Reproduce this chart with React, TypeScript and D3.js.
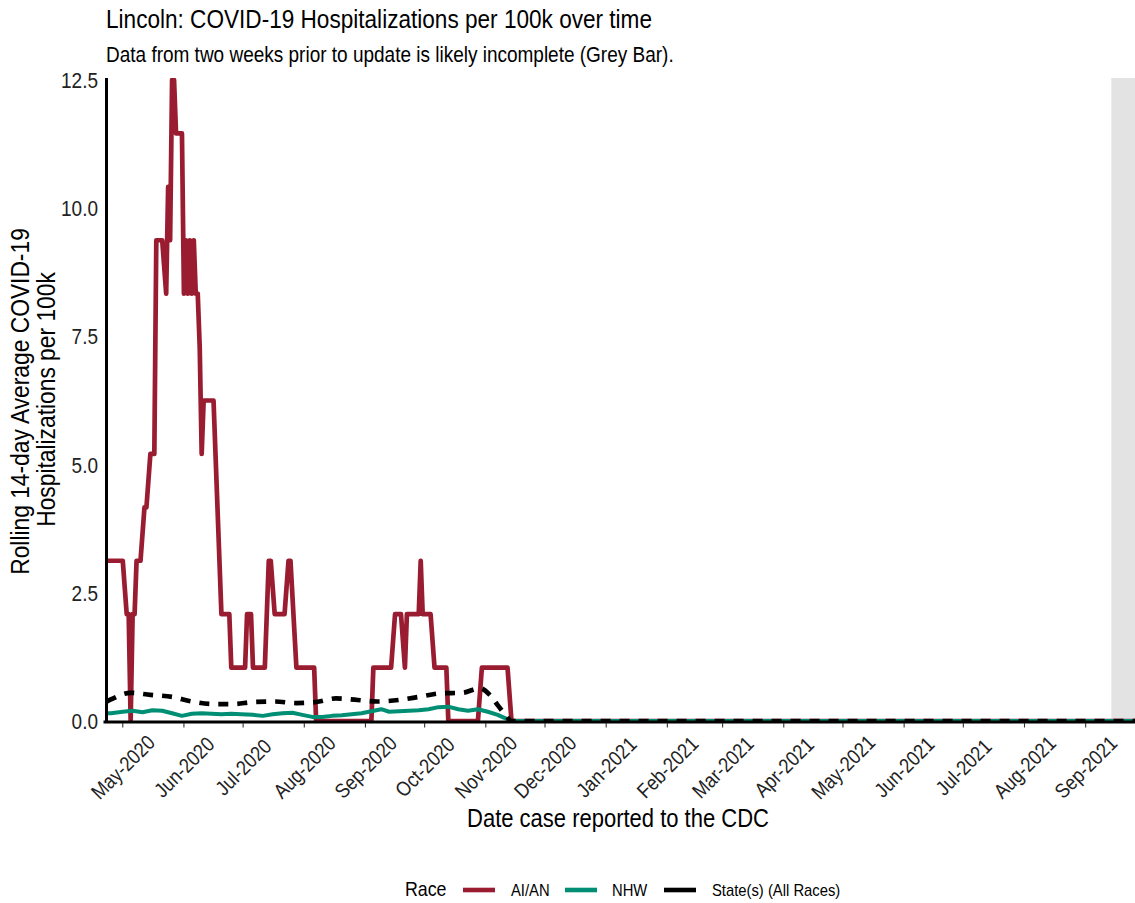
import React from "react";
import * as d3 from "d3";

// ---- data (date, rate per 100k) ----
const aianSeries: [string, number][] = [
  ["2020-04-23", 3.125], ["2020-05-01", 3.125], ["2020-05-03", 2.083], ["2020-05-04", 2.083],
  ["2020-05-05", 0], ["2020-05-06", 2.083], ["2020-05-07", 2.083], ["2020-05-08", 3.125],
  ["2020-05-10", 3.125], ["2020-05-12", 4.167], ["2020-05-13", 4.167], ["2020-05-15", 5.208],
  ["2020-05-17", 5.208], ["2020-05-18", 9.375], ["2020-05-21", 9.375], ["2020-05-23", 8.333],
  ["2020-05-24", 10.417], ["2020-05-25", 9.375], ["2020-05-26", 12.5], ["2020-05-27", 12.5],
  ["2020-05-28", 11.458], ["2020-05-31", 11.458], ["2020-06-01", 8.333], ["2020-06-02", 9.375],
  ["2020-06-03", 8.333], ["2020-06-04", 9.375], ["2020-06-05", 8.333], ["2020-06-06", 9.375],
  ["2020-06-07", 8.333], ["2020-06-08", 8.333], ["2020-06-09", 7.292], ["2020-06-10", 5.208],
  ["2020-06-11", 6.25], ["2020-06-16", 6.25], ["2020-06-19", 3.125], ["2020-06-20", 2.083],
  ["2020-06-24", 2.083], ["2020-06-25", 1.042], ["2020-07-02", 1.042], ["2020-07-03", 2.083],
  ["2020-07-05", 2.083], ["2020-07-06", 1.042], ["2020-07-12", 1.042], ["2020-07-14", 3.125],
  ["2020-07-15", 3.125], ["2020-07-17", 2.083], ["2020-07-22", 2.083], ["2020-07-24", 3.125],
  ["2020-07-25", 3.125], ["2020-07-28", 1.042], ["2020-08-06", 1.042], ["2020-08-07", 0],
  ["2020-09-04", 0], ["2020-09-05", 1.042], ["2020-09-14", 1.042], ["2020-09-16", 2.083],
  ["2020-09-19", 2.083], ["2020-09-21", 1.042], ["2020-09-22", 2.083], ["2020-09-28", 2.083],
  ["2020-09-29", 3.125], ["2020-09-30", 2.083], ["2020-10-04", 2.083], ["2020-10-06", 1.042],
  ["2020-10-12", 1.042], ["2020-10-13", 0], ["2020-10-28", 0], ["2020-10-30", 1.042],
  ["2020-11-12", 1.042], ["2020-11-14", 0], ["2021-09-26", 0],
];

const nhwSeries: [string, number][] = [
  ["2020-04-23", 0.15], ["2020-04-25", 0.15], ["2020-05-01", 0.18], ["2020-05-06", 0.2],
  ["2020-05-11", 0.17], ["2020-05-16", 0.21], ["2020-05-21", 0.2], ["2020-05-26", 0.15],
  ["2020-05-31", 0.1], ["2020-06-05", 0.14], ["2020-06-10", 0.15], ["2020-06-15", 0.14],
  ["2020-06-20", 0.13], ["2020-06-25", 0.14], ["2020-06-30", 0.13], ["2020-07-06", 0.12],
  ["2020-07-11", 0.1], ["2020-07-16", 0.13], ["2020-07-21", 0.15], ["2020-07-26", 0.16],
  ["2020-07-31", 0.12], ["2020-08-05", 0.08], ["2020-08-10", 0.08], ["2020-08-15", 0.1],
  ["2020-08-20", 0.11], ["2020-08-25", 0.13], ["2020-08-30", 0.15], ["2020-09-04", 0.19],
  ["2020-09-09", 0.23], ["2020-09-13", 0.18], ["2020-09-18", 0.19], ["2020-09-23", 0.2],
  ["2020-09-28", 0.21], ["2020-10-03", 0.23], ["2020-10-08", 0.27], ["2020-10-13", 0.28],
  ["2020-10-18", 0.23], ["2020-10-23", 0.2], ["2020-10-28", 0.23], ["2020-11-02", 0.18],
  ["2020-11-07", 0.12], ["2020-11-11", 0.05], ["2020-11-14", 0], ["2021-09-26", 0],
];

const stateSeries: [string, number][] = [
  ["2020-04-23", 0.38], ["2020-04-25", 0.42], ["2020-05-05", 0.55], ["2020-05-15", 0.51],
  ["2020-05-26", 0.47], ["2020-06-05", 0.38], ["2020-06-16", 0.33], ["2020-06-26", 0.33],
  ["2020-07-06", 0.37], ["2020-07-17", 0.38], ["2020-07-28", 0.35], ["2020-08-07", 0.37],
  ["2020-08-17", 0.44], ["2020-08-28", 0.41], ["2020-09-07", 0.38], ["2020-09-18", 0.41],
  ["2020-09-28", 0.47], ["2020-10-09", 0.54], ["2020-10-20", 0.55], ["2020-10-29", 0.64],
  ["2020-11-03", 0.51], ["2020-11-07", 0.31], ["2020-11-11", 0.12], ["2020-11-14", 0],
  ["2021-09-26", 0],
];

const yTicks = [0, 2.5, 5, 7.5, 10, 12.5];
const dateStart = "2020-04-22";
const dateEnd = "2021-09-26";
const greyStart = "2021-09-14";

const legendItems = [
  { label: "AI/AN", color: "#991c30" },
  { label: "NHW", color: "#008f74" },
  { label: "State(s) (All Races)", color: "#000000" },
];

const FONT = "'Liberation Sans', Arial, Helvetica, sans-serif";
const SQUEEZE = 0.87; // the source text is a little narrower than Arial

type TProps = {
  x: number;
  y: number;
  size: number;
  anchor?: "start" | "middle" | "end";
  rotate?: number;
  fill?: string;
  baseline?: string;
  children: React.ReactNode;
};

// text drawn slightly condensed, to match the narrow-looking source font
const T = ({ x, y, size, anchor = "start", rotate = 0, fill = "#000", baseline, children }: TProps) => (
  <text
    transform={`translate(${x},${y}) rotate(${rotate}) scale(${SQUEEZE},1)`}
    fontSize={size / SQUEEZE}
    textAnchor={anchor}
    fill={fill}
    dominantBaseline={baseline}
  >
    {children}
  </text>
);

export default function App() {
  const W = 1135;
  const H = 903;
  const left = 105;
  const right = 1135;
  const top = 78;
  const bottom = 721;

  const parse = (s: string) => new Date(s + "T00:00:00Z");

  const x = d3.scaleUtc().domain([parse(dateStart), parse(dateEnd)]).range([left, right]);
  const y = d3.scaleLinear().domain([0, 12.5]).range([bottom, 80]);

  const line = d3
    .line<[string, number]>()
    .x((d) => x(parse(d[0])))
    .y((d) => y(d[1]));

  const smooth = d3
    .line<[string, number]>()
    .x((d) => x(parse(d[0])))
    .y((d) => y(d[1]))
    .curve(d3.curveMonotoneX);

  const monthTicks = d3.utcMonth.range(parse("2020-05-01"), parse("2021-10-01"));
  const fmt = d3.utcFormat("%b-%Y");

  const keyX = [463, 565, 664];
  const labelX = [511, 612, 712];
  const gx = x(parse(greyStart));

  return (
    <svg
      width={W}
      height={H}
      style={{ position: "absolute", left: 0, top: 0, background: "#fff" }}
      fontFamily={FONT}
    >
      <defs>
        <clipPath id="panel">
          <rect x={left} y={top} width={right - left} height={bottom - top} />
        </clipPath>
      </defs>

      {/* titles */}
      <T x={106} y={28} size={22.6}>
        Lincoln: COVID-19 Hospitalizations per 100k over time
      </T>
      <T x={106} y={62} size={19}>
        Data from two weeks prior to update is likely incomplete (Grey Bar).
      </T>

      {/* incomplete-data bar */}
      <rect x={gx} y={top} width={right - gx} height={bottom - top} fill="#e3e3e3" />

      <g clipPath="url(#panel)" fill="none" strokeLinejoin="round" strokeLinecap="butt">
        <path d={line(aianSeries) ?? ""} stroke="#991c30" strokeWidth={4.7} />
        <path d={line(nhwSeries) ?? ""} stroke="#008f74" strokeWidth={4} />
        <path
          d={smooth(stateSeries) ?? ""}
          stroke="#000"
          strokeWidth={4.7}
          strokeDasharray="10,9"
        />
      </g>

      {/* axes */}
      <line x1={left - 1.5} x2={right} y1={722} y2={722} stroke="#000" strokeWidth={2.8} />
      <line x1={left + 1.5} x2={left + 1.5} y1={78} y2={723} stroke="#000" strokeWidth={3} />

      {yTicks.map((t) => (
        <T key={t} x={98} y={y(t)} size={19} fill="#222" anchor="end" baseline="central">
          {t.toFixed(1)}
        </T>
      ))}

      {monthTicks.map((d) => {
        const tx = x(d);
        return (
          <g key={d.toISOString()}>
            <line x1={tx} x2={tx} y1={723} y2={727.5} stroke="#333" strokeWidth={1.1} />
            <T x={tx} y={767} size={18} rotate={-45} fill="#222" anchor="middle" baseline="central">
              {fmt(d)}
            </T>
          </g>
        );
      })}

      {/* axis titles */}
      <T x={(left + right) / 2 - 2} y={827} size={22} anchor="middle">
        Date case reported to the CDC
      </T>
      <T x={28.5} y={(top + bottom) / 2 + 2} size={22.8} rotate={-90} anchor="middle">
        Rolling 14-day Average COVID-19
      </T>
      <T x={54.5} y={(top + bottom) / 2} size={22.8} rotate={-90} anchor="middle">
        Hospitalizations per 100k
      </T>

      {/* legend */}
      <T x={405} y={896} size={17.8}>
        Race
      </T>
      {legendItems.map((it, i) => (
        <g key={it.label}>
          <line
            x1={keyX[i]}
            x2={keyX[i] + 32}
            y1={890}
            y2={890}
            stroke={it.color}
            strokeWidth={4.6}
          />
          <T x={labelX[i]} y={895.5} size={14.8}>
            {it.label}
          </T>
        </g>
      ))}
    </svg>
  );
}
